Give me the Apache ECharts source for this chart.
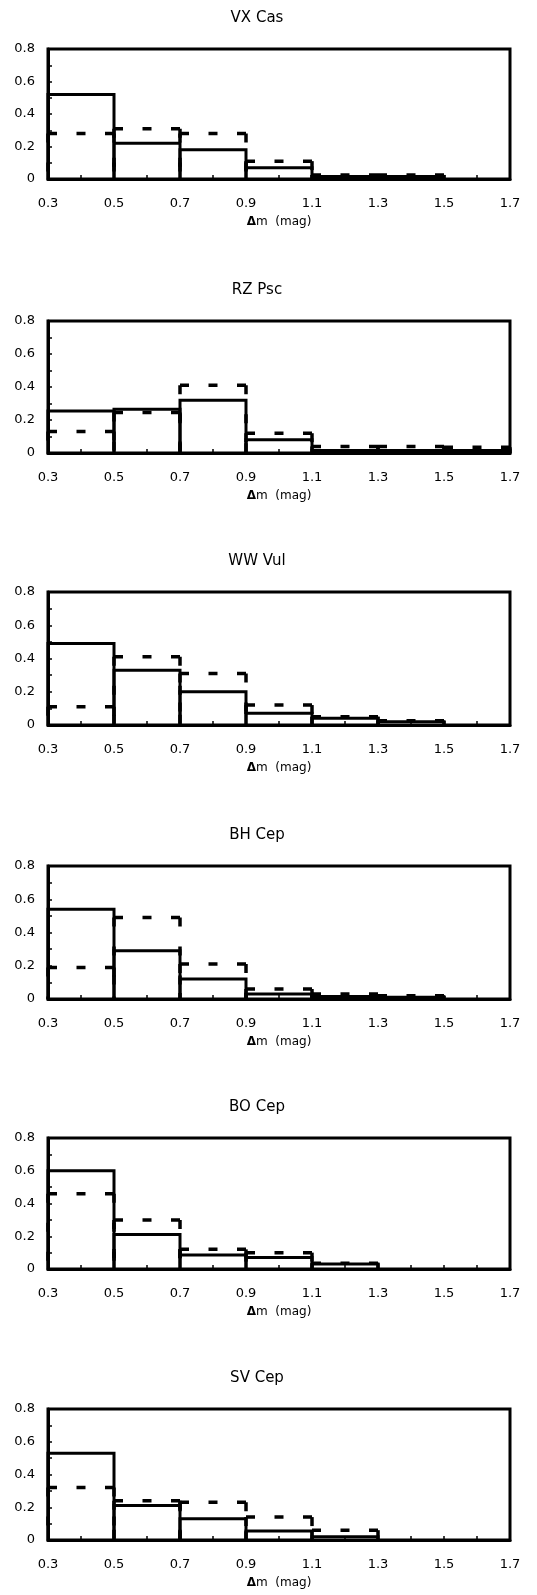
<!DOCTYPE html>
<html>
<head>
<meta charset="utf-8">
<script src="https://cdn.jsdelivr.net/npm/echarts@6/dist/echarts.min.js"></script>
<style>
html,body{margin:0;padding:0;background:#fff;}
#chart{width:537px;height:1595px;}
</style>
</head>
<body>
<div id="chart"></div>
<script>
// bin edges (mag)
const binEdges = [0.3, 0.5, 0.7, 0.9, 1.1, 1.3, 1.5, 1.7];
const xTickLabels = ['0.3', '0.5', '0.7', '0.9', '1.1', '1.3', '1.5', '1.7'];
const yTickLabels = ['0', '0.2', '0.4', '0.6', '0.8'];
const stars = ['VX Cas', 'RZ Psc', 'WW Vul', 'BH Cep', 'BO Cep', 'SV Cep'];

// solid-line histograms
const vxCasSolid  = [0.52, 0.22, 0.18, 0.07, 0.015, 0.015, 0];
const rzPscSolid  = [0.255, 0.265, 0.32, 0.08, 0.015, 0.015, 0.015];
const wwVulSolid  = [0.49, 0.33, 0.20, 0.07, 0.04, 0.02, 0];
const bhCepSolid  = [0.54, 0.29, 0.12, 0.03, 0.015, 0.01, 0];
const boCepSolid  = [0.60, 0.21, 0.085, 0.07, 0.03, 0, 0];
const svCepSolid  = [0.53, 0.21, 0.13, 0.055, 0.02, 0, 0];

// dashed-line histograms
const vxCasDashed = [0.28, 0.31, 0.28, 0.11, 0.025, 0.025, 0];
const rzPscDashed = [0.13, 0.245, 0.41, 0.12, 0.04, 0.04, 0.035];
const wwVulDashed = [0.11, 0.41, 0.31, 0.12, 0.05, 0.025, 0];
const bhCepDashed = [0.19, 0.49, 0.21, 0.06, 0.03, 0.02, 0];
const boCepDashed = [0.46, 0.30, 0.12, 0.10, 0.035, 0, 0];
const svCepDashed = [0.32, 0.24, 0.23, 0.14, 0.06, 0, 0];

const solidSets  = [vxCasSolid, rzPscSolid, wwVulSolid, bhCepSolid, boCepSolid, svCepSolid];
const dashedSets = [vxCasDashed, rzPscDashed, wwVulDashed, bhCepDashed, boCepDashed, svCepDashed];

// layout
const gridTops    = [49, 321, 592, 866, 1138, 1409];
const gridHeights = [130, 132, 133, 133, 131, 131];
const FONT = 'DejaVu Sans';

function toBins(vals) {
  const out = [];
  vals.forEach((v, i) => { if (v > 0) out.push([binEdges[i], binEdges[i + 1], v]); });
  return out;
}

function renderSolid(params, api) {
  const x0 = api.value(0), x1 = api.value(1), v = api.value(2);
  const pBL = api.coord([x0, 0]), pTL = api.coord([x0, v]), pTR = api.coord([x1, v]), pBR = api.coord([x1, 0]);
  return {
    type: 'polyline',
    shape: { points: [pBL, pTL, pTR, pBR] },
    style: { stroke: '#000', lineWidth: 3, fill: null, lineJoin: 'miter' }
  };
}

function renderDashed(params, api) {
  const x0 = api.value(0), x1 = api.value(1), v = api.value(2);
  const pBL = api.coord([x0, 0]), pTL = api.coord([x0, v]), pTR = api.coord([x1, v]), pBR = api.coord([x1, 0]);
  const w = pTR[0] - pTL[0];
  const dash = 9;
  const gap = Math.max(4, (w - 3 * dash) / 2);
  const st = { stroke: '#000', lineWidth: 3.5, fill: null };
  return {
    type: 'group',
    children: [
      { type: 'line', shape: { x1: pTL[0], y1: pTL[1], x2: pTR[0], y2: pTR[1] },
        style: Object.assign({}, st, { lineDash: [dash, gap] }) },
      { type: 'line', shape: { x1: pTL[0], y1: pTL[1], x2: pBL[0], y2: pBL[1] },
        style: Object.assign({}, st, { lineDash: [dash, 20] }) },
      { type: 'line', shape: { x1: pTR[0], y1: pTR[1], x2: pBR[0], y2: pBR[1] },
        style: Object.assign({}, st, { lineDash: [dash, 20] }) }
    ]
  };
}

const grids = [], xAxes = [], yAxes = [], series = [], graphics = [];
stars.forEach((name, i) => {
  grids.push({
    left: 48, right: 27, top: gridTops[i], height: gridHeights[i],
    show: true, borderColor: '#000', borderWidth: 3, backgroundColor: '#fff'
  });
  xAxes.push({
    type: 'value', gridIndex: i, min: 0.3, max: 1.7, interval: 0.1,
    axisLine: { show: true, lineStyle: { color: '#000', width: 3 } },
    axisTick: { show: true, inside: true, length: 4, lineStyle: { color: '#000', width: 1.5 } },
    splitLine: { show: false },
    axisLabel: {
      margin: 18, color: '#000', fontFamily: FONT, fontSize: 13,
      formatter: function (v) {
        const k = Math.round((v - 0.3) * 10);
        if (k % 2 !== 0) return '';
        return xTickLabels[k / 2] || '';
      }
    },
    name: '{d|Δ}m  (mag)', nameLocation: 'middle', nameGap: 37,
    nameTextStyle: { color: '#000', fontFamily: FONT, fontSize: 12,
      rich: { d: { fontWeight: 'bold', fontSize: 12, fontFamily: FONT, color: '#000' } } }
  });
  yAxes.push({
    type: 'value', gridIndex: i, min: 0, max: 0.8, interval: 0.1,
    axisLine: { show: true, lineStyle: { color: '#000', width: 3 } },
    axisTick: { show: true, inside: true, length: 4, lineStyle: { color: '#000', width: 1.5 } },
    splitLine: { show: false },
    axisLabel: {
      margin: 13, color: '#000', fontFamily: FONT, fontSize: 13,
      formatter: function (v) {
        const k = Math.round(v * 10);
        if (k % 2 !== 0) return '';
        return yTickLabels[k / 2] || '';
      }
    }
  });
  series.push({
    type: 'custom', name: name + ' solid', xAxisIndex: i, yAxisIndex: i,
    renderItem: renderSolid, data: toBins(solidSets[i]),
    encode: { x: [0, 1], y: 2 }, clip: false, z: 3
  });
  series.push({
    type: 'custom', name: name + ' dashed', xAxisIndex: i, yAxisIndex: i,
    renderItem: renderDashed, data: toBins(dashedSets[i]),
    encode: { x: [0, 1], y: 2 }, clip: false, z: 2
  });
  graphics.push({
    type: 'text', x: 257, y: gridTops[i] - 31,
    style: { text: name, textAlign: 'center', textVerticalAlign: 'middle',
      fontFamily: FONT, fontSize: 15, fill: '#000' }
  });
});

const chart = echarts.init(document.getElementById('chart'), null, { renderer: 'canvas' });
chart.setOption({
  animation: false,
  backgroundColor: '#fff',
  grid: grids,
  xAxis: xAxes,
  yAxis: yAxes,
  series: series,
  graphic: graphics
});
</script>
</body>
</html>
